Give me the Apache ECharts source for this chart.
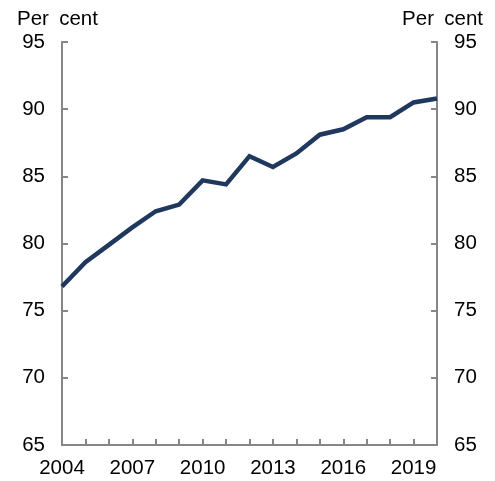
<!DOCTYPE html>
<html>
<head>
<meta charset="utf-8">
<script src="https://cdn.jsdelivr.net/npm/echarts@6/dist/echarts.min.js"></script>
<style>
  html, body { margin: 0; padding: 0; background: #fff; }
  #chart { width: 495px; height: 481px; }
</style>
</head>
<body>
<div id="chart"></div>
<script>
// years on the x axis
let years = ['2004', '2005', '2006', '2007', '2008', '2009', '2010', '2011', '2012',
             '2013', '2014', '2015', '2016', '2017', '2018', '2019', '2020']
// share, per cent
let shareValues = [76.8, 78.6, 79.9, 81.2, 82.4, 82.9, 84.7, 84.4, 86.5,
                   85.7, 86.7, 88.1, 88.5, 89.4, 89.4, 90.5, 90.8]
let yTicks = [65, 70, 75, 80, 85, 90, 95]

let axisGrey = '#868686'
let fontFam = '"Liberation Sans", Arial, sans-serif'
let fs = 20.5
let unitText = 'Per\u2002cent'

let yAxisBase = function (pos) {
  return {
    type: 'value',
    position: pos,
    min: yTicks[0],
    max: yTicks[yTicks.length - 1],
    interval: 5,
    splitLine: { show: false },
    axisLine: { show: true, lineStyle: { color: axisGrey, width: 2 } },
    axisTick: { show: true, inside: true, length: 6, lineStyle: { color: axisGrey, width: 2 } },
    axisLabel: { color: '#000', fontSize: fs, fontFamily: fontFam, margin: 17 }
  }
}

var myChart = echarts.init(document.getElementById('chart'))
var option = {
  animation: false,
  grid: { left: 62, right: 58, top: 42, bottom: 36, containLabel: false },
  graphic: [
    { type: 'text', left: 17, top: 9, style: { text: unitText, fontSize: fs, fontFamily: fontFam, fill: '#000' } },
    { type: 'text', right: 12, top: 9, style: { text: unitText, fontSize: fs, fontFamily: fontFam, fill: '#000' } }
  ],
  xAxis: {
    type: 'category',
    data: years,
    boundaryGap: false,
    axisLine: { lineStyle: { color: axisGrey, width: 2 } },
    axisTick: { show: true, inside: true, length: 6, interval: 0, lineStyle: { color: axisGrey, width: 2 } },
    axisLabel: { color: '#000', fontSize: fs, fontFamily: fontFam, interval: 2, margin: 13 }
  },
  yAxis: [yAxisBase('left'), yAxisBase('right')],
  series: [
    {
      type: 'line',
      data: shareValues,
      symbol: 'none',
      lineStyle: { color: '#21385e', width: 4.5, join: 'miter' }
    }
  ]
}
myChart.setOption(option)
</script>
</body>
</html>
